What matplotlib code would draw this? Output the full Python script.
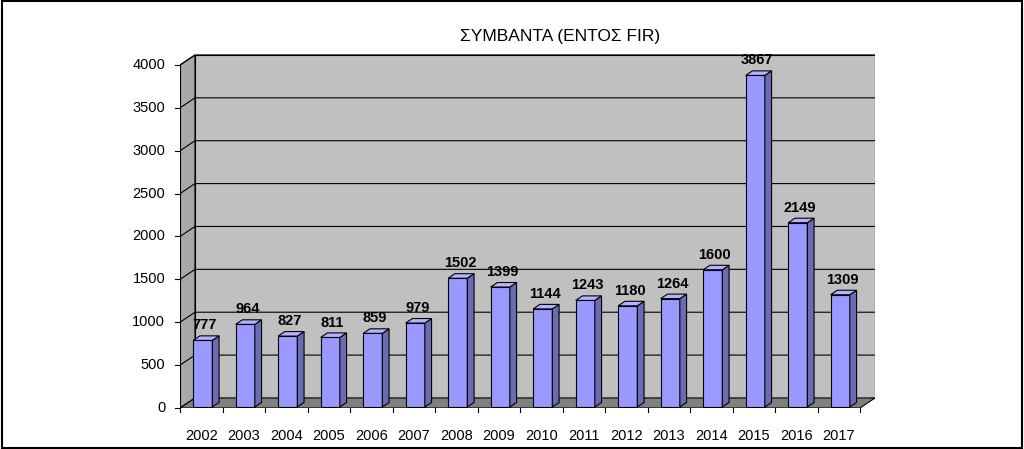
import matplotlib
matplotlib.use("Agg")
import matplotlib.pyplot as plt
from matplotlib.patches import Polygon, Rectangle

years = ["2002","2003","2004","2005","2006","2007","2008","2009","2010","2011","2012","2013","2014","2015","2016","2017"]
values = [777, 964, 827, 811, 859, 979, 1502, 1399, 1144, 1243, 1180, 1264, 1600, 3867, 2149, 1309]
yticks = [0, 500, 1000, 1500, 2000, 2500, 3000, 3500, 4000]
title = "ΣΥΜΒΑΝΤΑ (ΕΝΤΟΣ FIR)"

W, H = 1024, 449
fig = plt.figure(figsize=(W/100, H/100), dpi=100)
fig.patches.append(Rectangle((0.002, 0.003), 0.996, 0.994, transform=fig.transFigure,
                             fill=False, edgecolor="black", lw=1.5))
ax = fig.add_axes([180/W, (H-408)/H, 695/W, 360/H])
n = len(years)
DX, DY = 0.353, 117.0
ymax = 4000
ax.set_xlim(0, n*695/680)
ax.set_ylim(0, 360/0.08575)
ax.axis("off")

# walls
ax.add_patch(Polygon([(0,0),(DX,DY),(DX,ymax+DY),(0,ymax)], fc="#a8a8a8", ec="black", lw=0.8, zorder=1))
ax.add_patch(Polygon([(DX,DY),(n+DX,DY),(n+DX,ymax+DY),(DX,ymax+DY)], fc="#c0c0c0", ec="black", lw=0.8, zorder=1))
ax.add_patch(Polygon([(0,0),(n,0),(n+DX,DY),(DX,DY)], fc="#808080", ec="black", lw=0.8, zorder=1))
for t in yticks[1:]:
    ax.plot([0, DX, n+DX], [t, t+DY, t+DY], color="black", lw=0.8, zorder=2)
# axis line & ticks
ax.plot([0,0],[0,ymax], color="black", lw=0.8, zorder=2)
for t in yticks:
    ax.plot([-0.12,0],[t,t], color="black", lw=0.8, zorder=2, clip_on=False)
    ax.text(-0.35, t, str(t), ha="right", va="center", fontsize=10.5, family="Liberation Sans")
for i in range(n+1):
    ax.plot([i,i],[0,-50], color="black", lw=0.8, zorder=2, clip_on=False)
for i, y in enumerate(years):
    ax.text(i+0.5, -330, y, ha="center", va="center", fontsize=10.5, family="Liberation Sans")

# bars
bw = 0.45
off = 0.1
d = 0.45
for i, v in enumerate(values):
    x0 = i + 0.5 - bw/2 + off*DX
    y0 = off*DY
    ddx, ddy = d*DX, d*DY
    ax.add_patch(Polygon([(x0,y0),(x0+bw,y0),(x0+bw,y0+v),(x0,y0+v)], fc="#9999ff", ec="black", lw=0.8, zorder=3))
    ax.add_patch(Polygon([(x0+bw,y0),(x0+bw+ddx,y0+ddy),(x0+bw+ddx,y0+v+ddy),(x0+bw,y0+v)], fc="#6b6bb3", ec="black", lw=0.8, zorder=3))
    ax.add_patch(Polygon([(x0,y0+v),(x0+bw,y0+v),(x0+bw+ddx,y0+v+ddy),(x0+ddx,y0+v+ddy)], fc="#b3b3ff", ec="black", lw=0.8, zorder=3))
    ax.text(x0+bw/2+0.05, y0+v+ddy+40, str(v), ha="center", va="bottom", fontsize=10.5,
            fontweight="bold", family="Liberation Sans", zorder=4)

fig.text(560/W, 1-37/H, title, ha="center", va="center", fontsize=12.5, family="Liberation Sans")
fig.savefig("out.png", dpi=100)
